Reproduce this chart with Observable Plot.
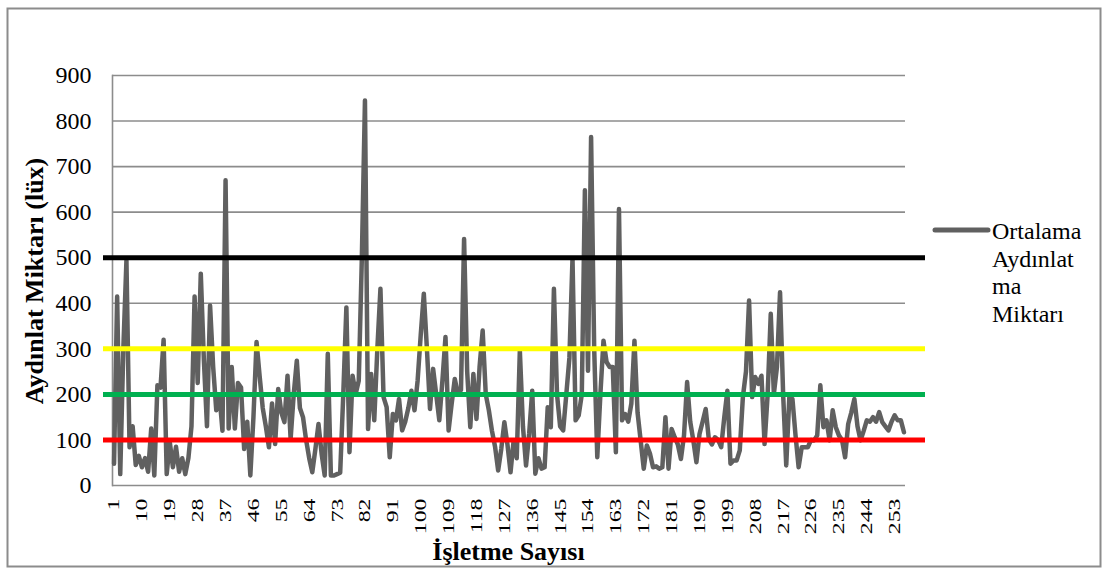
<!DOCTYPE html>
<html>
<head>
<meta charset="utf-8">
<script src="https://cdn.jsdelivr.net/npm/d3@7"></script>
<script src="https://cdn.jsdelivr.net/npm/@observablehq/plot@0.6"></script>
<style>
  html, body { margin: 0; padding: 0; background: #fff; }
</style>
</head>
<body>
<div id="chart"></div>
<script>
// Average illumination per business (lux), businesses 1..256
const values = [
  48, 415, 25, 300, 494, 84, 130, 45, 65, 40,
  60, 30, 125, 22, 220, 215, 320, 25, 95, 40,
  85, 30, 60, 25, 60, 130, 415, 225, 465, 275,
  130, 395, 260, 165, 200, 120, 670, 125, 260, 125,
  225, 215, 80, 140, 22, 150, 315, 240, 170, 130,
  84, 180, 91, 212, 160, 139, 241, 102, 200, 274,
  170, 150, 100, 60, 29, 80, 135, 70, 22, 289,
  22, 22, 25, 28, 200, 391, 73, 241, 201, 230,
  500, 845, 124, 245, 143, 300, 432, 194, 172, 62,
  157, 143, 190, 121, 140, 170, 208, 165, 230, 330,
  421, 300, 168, 256, 200, 143, 230, 326, 121, 180,
  234, 201, 210, 541, 250, 128, 245, 146, 260, 340,
  200, 165, 120, 85, 33, 80, 139, 90, 29, 99,
  60, 296, 130, 44, 113, 208, 26, 60, 37, 40,
  172, 128, 432, 200, 130, 121, 200, 280, 498, 143,
  154, 200, 648, 252, 765, 300, 62, 200, 318, 271,
  260, 260, 73, 607, 143, 157, 140, 180, 318, 160,
  99, 37, 88, 70, 40, 42, 37, 40, 150, 37,
  124, 106, 90, 58, 110, 227, 140, 99, 51, 113,
  140, 168, 102, 90, 106, 100, 84, 150, 208, 48,
  55, 55, 77, 194, 250, 406, 194, 238, 223, 241,
  91, 200, 377, 201, 260, 424, 200, 44, 194, 190,
  110, 40, 84, 84, 84, 100, 99, 110, 220, 128,
  143, 99, 165, 128, 110, 100, 62, 135, 160, 190,
  130, 99, 120, 143, 140, 150, 140, 161, 139, 130,
  121, 140, 154, 143, 143, 117
];
const xTicks = [1, 10, 19, 28, 37, 46, 55, 64, 73, 82, 91, 100, 109, 118, 127, 136, 145, 154, 163, 172, 181, 190, 199, 208, 217, 226, 235, 244, 253];
const yTicks = [0, 100, 200, 300, 400, 500, 600, 700, 800, 900];
const thresholdValues = [500, 300, 200, 100];
const thresholdColors = ["#000000", "#ffff00", "#00b050", "#ff0000"];
const seriesName = ["Ortalama", "Aydınlat", "ma", "Miktarı"];
const yTitle = "Aydınlat Miktarı (lüx)";
const xTitle = "İşletme Sayısı";

const data = values.map((v, i) => ({n: i + 1, v}));
const thresholds = thresholdValues.map((v, i) => ({v, c: thresholdColors[i]}));

const W = 1107, H = 572;
const mL = 112, mR = 202, mT = 75, mB = 87;
const font = "'Liberation Serif', 'Times New Roman', serif";

const chart = Plot.plot({
  width: W, height: H,
  marginLeft: mL, marginRight: mR, marginTop: mT, marginBottom: mB,
  style: {fontFamily: font, fontSize: "24px", color: "#000", background: "#fff", overflow: "visible"},
  x: {type: "linear", domain: [0.5, values.length + 0.5]},
  y: {domain: [0, 900]},
  marks: [
    Plot.gridY(yTicks, {stroke: "#8c8c8c", strokeOpacity: 1, strokeWidth: 1.6}),
    Plot.frame({anchor: "left", stroke: "#8c8c8c", strokeWidth: 1.6}),
    Plot.lineY(data, {x: "n", y: "v", stroke: "#606060", strokeWidth: 4.5, strokeLinejoin: "round", strokeLinecap: "round"}),
    Plot.ruleY(thresholds, {y: "v", stroke: "c", strokeWidth: 5, insetLeft: -9, insetRight: -20}),
    Plot.axisY(yTicks, {tickSize: 0, tickPadding: 21, label: null, fontSize: 24}),
    Plot.axisX(xTicks, {tickSize: 0, tickRotate: -90, tickPadding: 13, label: null, fontSize: 17})
  ]
});

document.getElementById("chart").appendChild(chart);
const svg = d3.select(chart);

// y tick labels: Times-like 24px
svg.selectAll('g[aria-label="y-axis tick label"]').attr("font-size", 24);
svg.selectAll('g[aria-label="y-axis tick label"] text').style("font-size", "24px");
// x tick labels: rotated and elongated along the text direction, as in the original
svg.selectAll('g[aria-label="x-axis tick label"] text')
  .style("font-size", "17px")
  .each(function() {
    const t = this.getAttribute("transform") || "";
    this.setAttribute("transform", t + " scale(1.4,1)");
  });

// outer border
svg.insert("rect", ":first-child")
  .attr("x", 7.5).attr("y", 8.5).attr("width", 1093).attr("height", 558)
  .attr("fill", "#fff").attr("stroke", "#8c8c8c").attr("stroke-width", 2);

// axis titles
svg.append("text")
  .attr("transform", "translate(34,281) rotate(-90)")
  .attr("text-anchor", "middle").attr("dy", "0.35em")
  .style("font-family", font).style("font-size", "26px").style("font-weight", "bold")
  .text(yTitle);
svg.append("text")
  .attr("x", (mL + W - mR) / 2).attr("y", 560)
  .attr("text-anchor", "middle")
  .style("font-family", font).style("font-size", "26px").style("font-weight", "bold")
  .text(xTitle);

// legend
svg.append("line")
  .attr("x1", 935).attr("x2", 988).attr("y1", 230).attr("y2", 230)
  .attr("stroke", "#606060").attr("stroke-width", 5).attr("stroke-linecap", "round");
const lg = svg.append("text")
  .attr("text-anchor", "start")
  .style("font-family", font).style("font-size", "24px").attr("fill", "#000");
seriesName.forEach((s, i) => {
  lg.append("tspan").attr("x", 992).attr("y", 239 + i * 27.6).attr("text-anchor", "start").text(s);
});
</script>
</body>
</html>
